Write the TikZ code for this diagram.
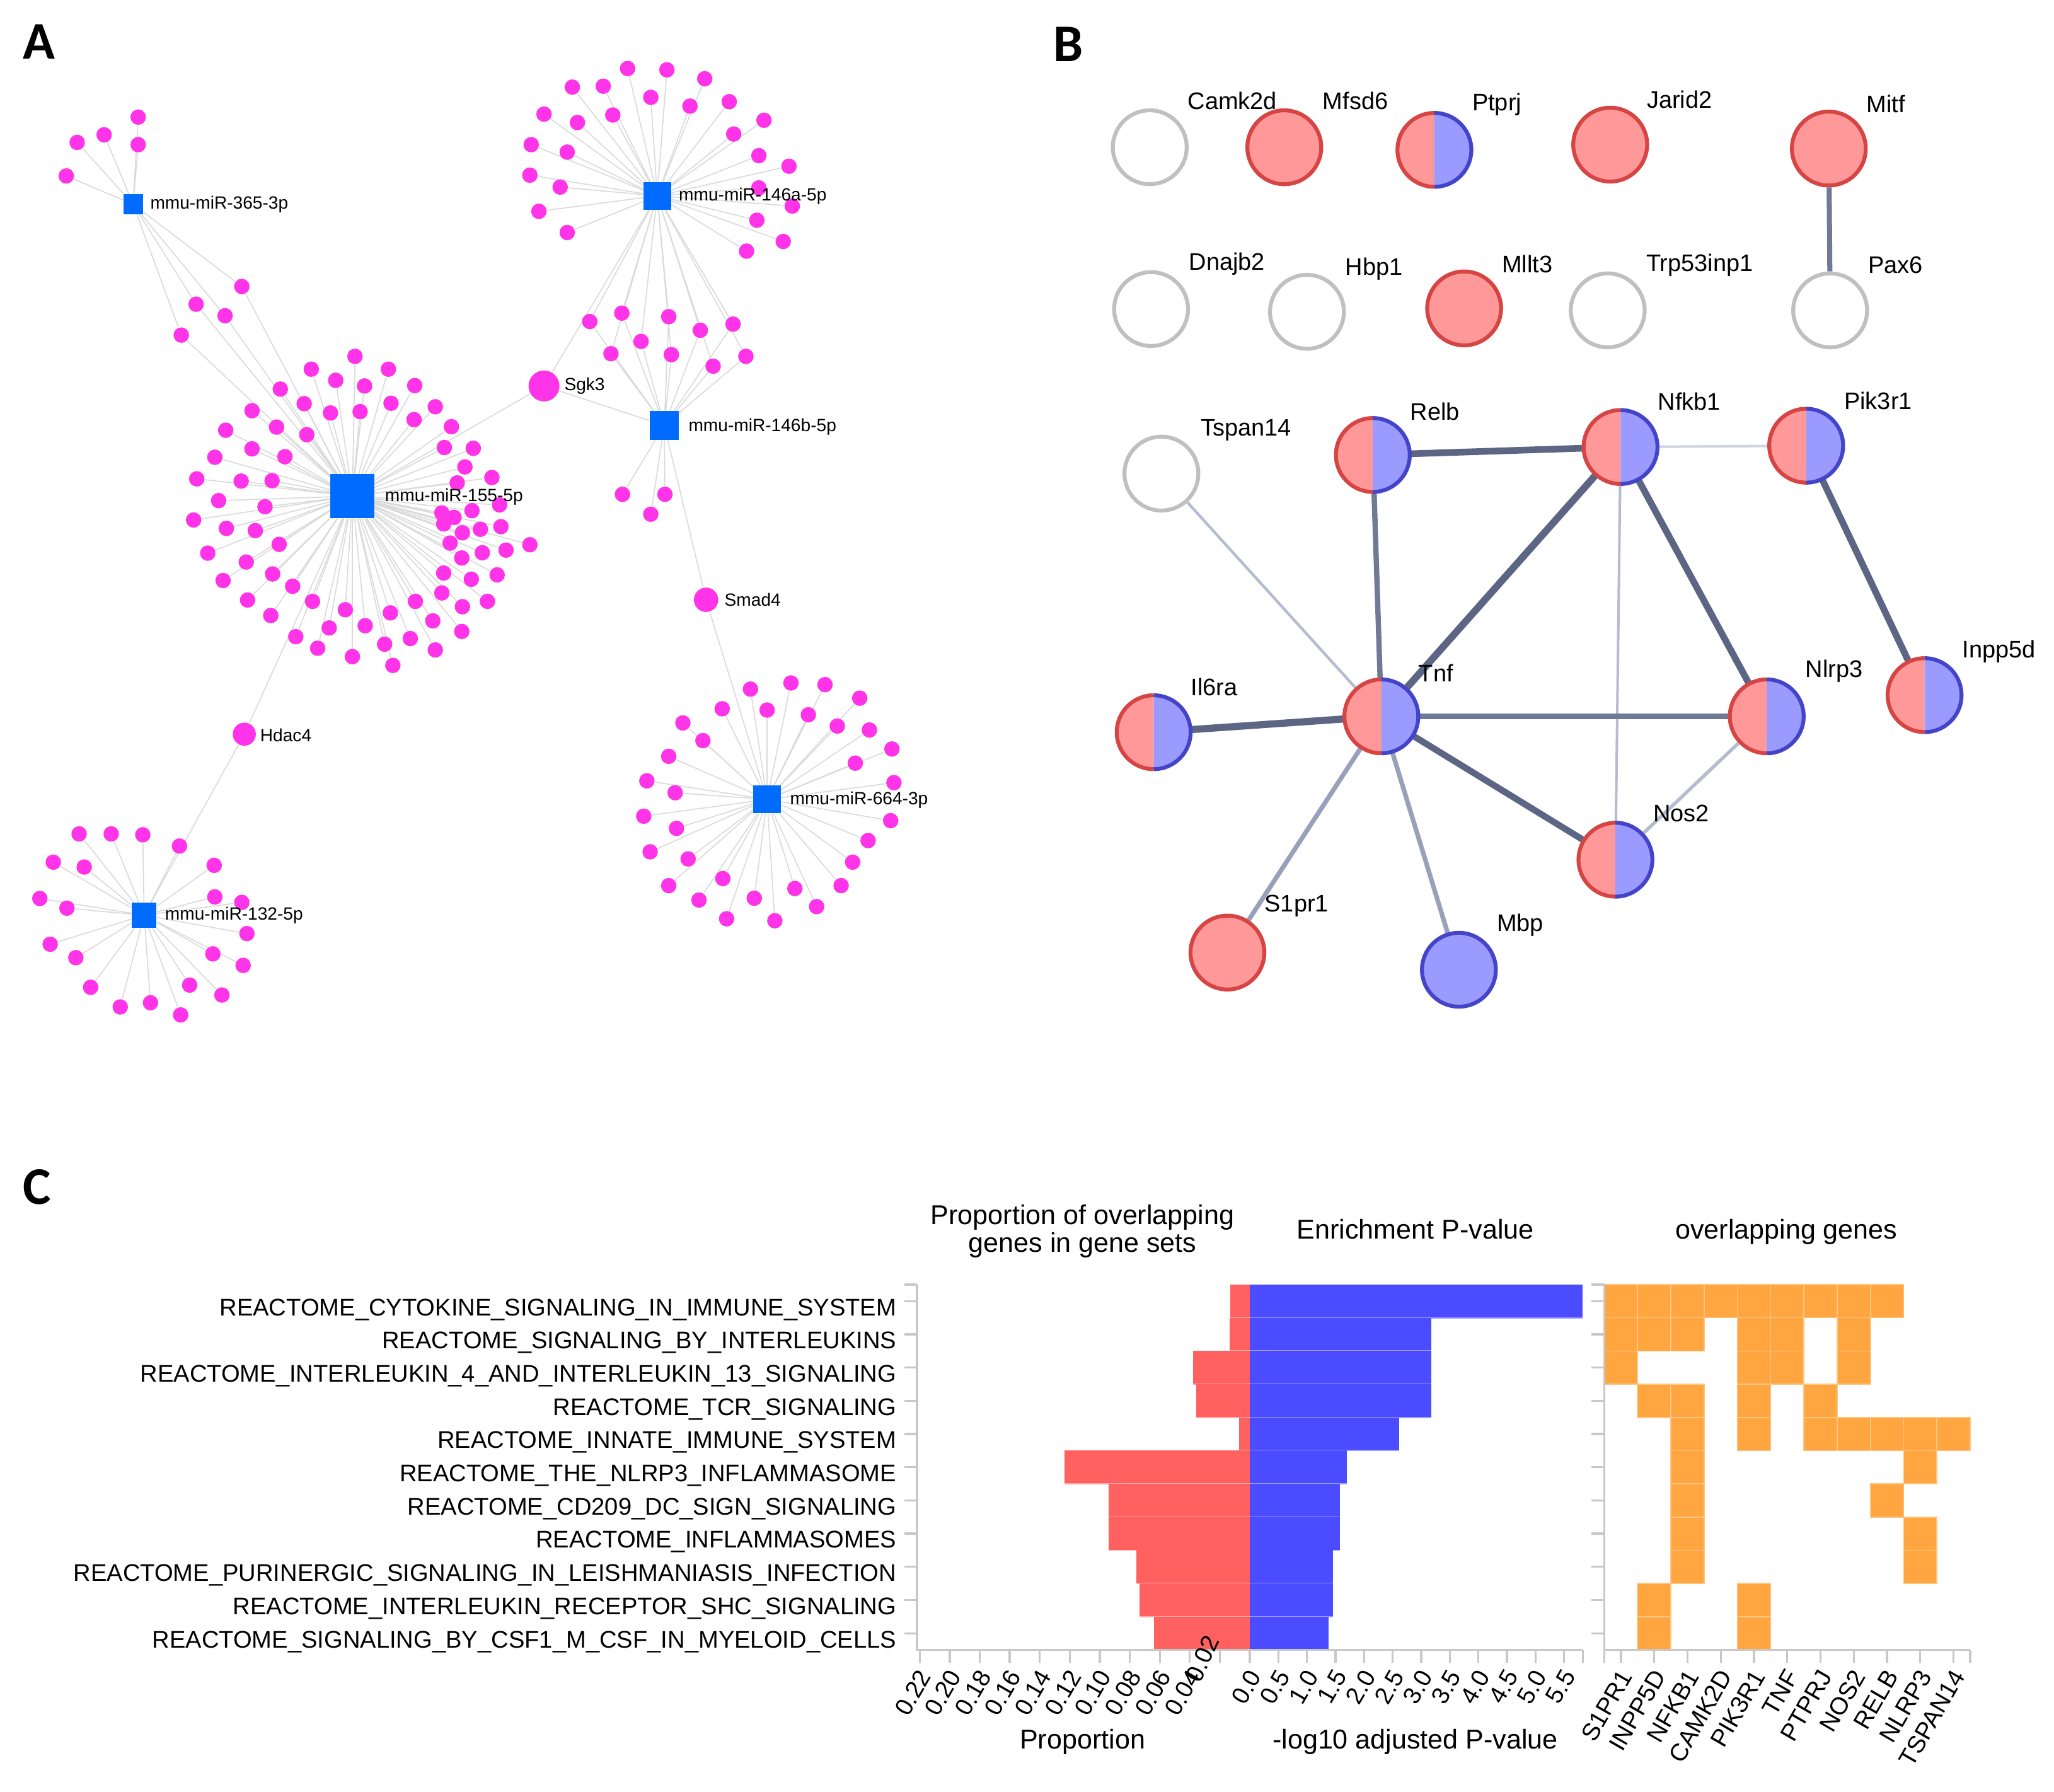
\documentclass[tikz,border=0pt]{standalone}
\usepackage{fontspec}
\setmainfont{Liberation Sans}
\newfontfamily\panelfont{Carlito}
\pgfdeclarelayer{bg}
\pgfsetlayers{bg,main}
\definecolor{mag}{RGB}{255,51,232}
\definecolor{hubblue}{RGB}{0,108,255}
\definecolor{aedgec}{RGB}{218,218,218}
\definecolor{pinkf}{RGB}{255,153,153}
\definecolor{redb}{RGB}{214,68,68}
\definecolor{lavf}{RGB}{155,155,255}
\definecolor{blueb}{RGB}{68,68,200}
\definecolor{grayb}{RGB}{192,192,192}
\definecolor{eA}{RGB}{92,102,132}
\definecolor{eB}{RGB}{112,122,150}
\definecolor{eC}{RGB}{152,160,186}
\definecolor{eD}{RGB}{182,188,208}
\definecolor{eE}{RGB}{208,211,224}
\definecolor{barred}{RGB}{255,97,97}
\definecolor{barblue}{RGB}{75,75,255}
\definecolor{heatorange}{RGB}{255,166,64}
\definecolor{axisgray}{RGB}{200,200,200}
\begin{document}
\begin{tikzpicture}[x=0.02cm,y=-0.02cm,
  dot/.style={circle,fill=mag,inner sep=0,minimum size=0.236cm},
  gdot/.style={circle,fill=mag,inner sep=0},
  hub/.style={rectangle,fill=hubblue,inner sep=0},
  alabel/.style={anchor=west,inner sep=0,font=\fontsize{7.7pt}{9pt}\selectfont},
  aedge/.style={draw=aedgec,line width=0.45pt},
  gn/.style={circle,inner sep=0,minimum size=1.128cm},
  blabel/.style={anchor=west,inner sep=0,font=\fontsize{10.4pt}{12pt}\selectfont},
  plabel/.style={inner sep=0,anchor=base west,font=\panelfont\bfseries\fontsize{23pt}{26pt}\selectfont},
  rowlab/.style={inner sep=0,anchor=base east,font=\fontsize{10.45pt}{12pt}\selectfont},
  ticklab/.style={inner sep=0,anchor=east,rotate=60,font=\fontsize{10.6pt}{12pt}\selectfont},
  ctitle/.style={inner sep=0,anchor=base,align=center,font=\fontsize{11.8pt}{10.9pt}\selectfont},
  axisl/.style={draw=axisgray,line width=0.9pt},
  ringred/.style={draw=redb,line width=1.7pt},
  ringblue/.style={draw=blueb,line width=1.7pt}]
\begin{pgfonlayer}{bg}
\fill[white] (0,0) rectangle (1568,1367.8);
\end{pgfonlayer}
\useasboundingbox (0,0) rectangle (1568,1367.8);

% ---------------- Panel letters
\node[plabel] (pA) at (17,45) {A};
\node[plabel] (pB) at (804,47) {B};
\node[plabel] (pC) at (17,919) {C};

% ---------------- Panel A hubs
\node[hub,minimum size=0.30cm] (h365) at (101.6,155.9) {};
\node[hub,minimum size=0.42cm] (h146a) at (501.7,149.5) {};
\node[hub,minimum size=0.44cm] (h146b) at (507.1,324.7) {};
\node[hub,minimum size=0.67cm] (h155) at (269.0,378.7) {};
\node[hub,minimum size=0.42cm] (h664) at (585.6,610.2) {};
\node[hub,minimum size=0.38cm] (h132) at (110.0,698.6) {};
\node[gdot,minimum size=0.472cm] (sgk3) at (415.3,294.6) {};
\node[gdot,minimum size=0.372cm] (smad4) at (539.0,457.8) {};
\node[gdot,minimum size=0.352cm] (hdac4) at (186.5,560.4) {};

% dots
\foreach \px/\py [count=\i] in {105.5/89.4,79.5/102.9,58.9/108.7,105.5/110.4,50.6/134.3}
  \node[dot] (a\i) at (\px,\py) {};
\foreach \px/\py [count=\i] in {184.6/218.7,149.7/232.2,171.8/241.0,138.4/255.8}
  \node[dot] (s\i) at (\px,\py) {};
\foreach \px/\py [count=\i] in {479.1/52.3,509.1/53.3,538.0/60.1,436.9/66.5,460.5/65.8,496.8/74.3,526.7/81.0,556.7/77.6,415.3/87.1,440.8/93.5,467.8/87.8,583.2/91.8,560.1/102.3,405.5/110.4,433.0/116.1,579.3/118.8,602.3/126.9,404.5/133.7,427.6/142.8,579.3/143.4,604.8/157.3,411.4/161.3,577.8/168.1,433.0/177.5,597.9/184.3,569.9/191.7}
  \node[dot] (b\i) at (\px,\py) {};
\foreach \px/\py [count=\i] in {450.2/245.4,474.7/239.0,510.5/241.7,534.6/252.1,559.6/247.4,466.4/270.0,489.4/260.6,512.5/270.7,544.4/279.5,569.4/272.0}
  \node[dot] (c\i) at (\px,\py) {};
\foreach \px/\py [count=\i] in {475.2/377.3,507.6/377.3,496.8/392.5}
  \node[dot] (d\i) at (\px,\py) {};
\foreach \px/\py [count=\i] in {271.0/272.0,237.6/281.8,296.5/281.8,256.3/290.3,278.3/294.6,316.6/294.3,214.0/297.0,232.2/308.1,252.3/315.2,274.9/314.2,298.5/307.8,332.3/310.5,192.4/313.5,211.1/326.0,234.2/331.8,316.1/320.3,344.6/325.7,172.3/328.4,192.4/342.6,217.5/348.6,339.2/341.6,361.3/342.2,164.0/349.0,354.9/356.4,150.2/365.5,184.1/367.2,207.7/366.9,349.0/368.6,375.5/364.5,166.9/382.1,202.3/386.8,360.3/389.8,381.4/385.4,337.3/391.5,346.6/394.9,338.7/399.9,147.8/396.9,172.8/403.3,194.9/405.0,353.0/406.7,366.7/404.0,382.4/402.0,213.1/415.5,343.6/414.5,404.5/415.8,158.6/422.2,188.0/429.0,352.5/425.9,368.2/421.9,386.3/419.9,208.1/438.1,338.7/437.4,359.8/442.1,379.5/438.8,170.3/443.1,223.4/447.5,317.1/459.0,337.3/452.6,353.0/463.1,372.1/459.0,189.0/458.0,238.6/459.0,263.6/465.4,298.0/467.8,330.4/473.9,206.7/469.8,251.3/479.3,278.8/477.6,352.5/482.0,225.8/486.0,242.5/494.8,269.0/501.2,293.6/491.7,313.2/487.4,332.3/496.1,299.9/507.9}
  \node[dot] (e\i) at (\px,\py) {};
\foreach \px/\py [count=\i] in {572.9/526.0,603.8/521.3,629.8/522.6,551.3/541.0,585.6/542.0,617.1/545.6,656.3/532.9,521.3/551.8,536.6/565.3,639.2/554.2,663.7/557.2,510.5/577.3,680.9/571.7,652.9/582.5,493.8/596.0,515.4/605.1,682.4/597.4,491.4/623.0,516.4/632.3,679.9/626.4,496.3/650.2,525.3/655.6,662.7/641.6,650.9/658.1,510.5/676.0,551.8/670.6,642.1/676.0,606.8/678.2,575.8/685.6,533.6/687.0,623.4/692.0,554.7/701.3,591.5/702.8}
  \node[dot] (f\i) at (\px,\py) {};
\foreach \px/\py [count=\i] in {60.4/636.5,84.9/636.5,109.0/637.2,137.0/645.8,40.7/658.1,64.3/661.8,163.5/660.5,30.4/685.8,51.1/693.2,164.0/684.6,184.6/688.8,188.5/712.6,38.3/720.7,57.9/731.0,162.5/728.1,185.6/736.9,69.2/753.6,144.8/751.9,91.8/768.6,114.9/765.4,169.4/759.5,137.9/774.7}
  \node[dot] (g\i) at (\px,\py) {};

% A labels
\node[alabel] (l365) at (114.4,155.9) {mmu-miR-365-3p};
\node[alabel] (l146a) at (517.9,149.5) {mmu-miR-146a-5p};
\node[alabel] (l146b) at (525.3,325.7) {mmu-miR-146b-5p};
\node[alabel] (l155) at (293.6,379.0) {mmu-miR-155-5p};
\node[alabel] (lsgk3) at (430.5,294.6) {Sgk3};
\node[alabel] (lsmad4) at (552.8,458.0) {Smad4};
\node[alabel] (lhdac4) at (198.3,561.1) {Hdac4};
\node[alabel] (l664) at (602.8,610.7) {mmu-miR-664-3p};
\node[alabel] (l132) at (125.7,698.6) {mmu-miR-132-5p};

\begin{pgfonlayer}{bg}
\foreach \i in {1,...,5} \draw[aedge] (h365) -- (a\i);
\foreach \i in {1,...,4} {\draw[aedge] (h365) -- (s\i); \draw[aedge] (h155) -- (s\i);}
\foreach \i in {1,...,26} \draw[aedge] (h146a) -- (b\i);
\foreach \i in {1,...,10} {\draw[aedge] (h146a) -- (c\i); \draw[aedge] (h146b) -- (c\i);}
\foreach \i in {1,...,3} \draw[aedge] (h146b) -- (d\i);
\foreach \i in {1,...,76} \draw[aedge] (h155) -- (e\i);
\foreach \i in {1,...,33} \draw[aedge] (h664) -- (f\i);
\foreach \i in {1,...,22} \draw[aedge] (h132) -- (g\i);
\draw[aedge] (h155) -- (sgk3);
\draw[aedge] (h146a) -- (sgk3);
\draw[aedge] (h146b) -- (sgk3);
\draw[aedge] (h146b) -- (smad4);
\draw[aedge] (h664) -- (smad4);
\draw[aedge] (h155) -- (hdac4);
\draw[aedge] (h132) -- (hdac4);
\end{pgfonlayer}

% ---------------- Panel B
\newcommand\halfnode[3]{%
  \node[gn] (#1) at (#2,#3) {};
  \fill[pinkf] (#1.center) ++(0,28.2) arc[start angle=90,end angle=270,radius=28.2] -- cycle;
  \fill[lavf] (#1.center) ++(0,-28.2) arc[start angle=-90,end angle=90,radius=28.2] -- cycle;
  \draw[ringred] (#1.center) ++(0,28.2) arc[start angle=90,end angle=270,radius=28.2];
  \draw[ringblue] (#1.center) ++(0,-28.2) arc[start angle=-90,end angle=90,radius=28.2];
}
\tikzset{
  redn/.style={gn,fill=pinkf,draw=redb,line width=1.7pt,minimum size=1.128cm},
  bluen/.style={gn,fill=lavf,draw=blueb,line width=1.7pt,minimum size=1.128cm},
  grayn/.style={gn,fill=white,draw=grayb,line width=1.7pt,minimum size=1.128cm}}
\node[grayn] (camk2d) at (877.7,112.4) {};
\node[redn] (mfsd6) at (980.4,112.4) {};
\halfnode{ptprj}{1095.0}{114.4}
\node[redn] (jarid2) at (1229.2,110.4) {};
\node[redn] (mitf) at (1396.1,113.4) {};
\node[grayn] (dnajb2) at (878.7,235.9) {};
\node[grayn] (hbp1) at (997.7,238.0) {};
\node[redn] (mllt3) at (1117.7,235.4) {};
\node[grayn] (trp53) at (1227.3,236.9) {};
\node[grayn] (pax6) at (1397.1,236.9) {};
\node[grayn] (tspan14) at (886.6,361.5) {};
\halfnode{relb}{1048.0}{347.3}
\halfnode{nfkb1}{1237.1}{341.2}
\halfnode{pik3r1}{1378.8}{340.2}
\halfnode{inpp5d}{1469.2}{530.6}
\halfnode{il6ra}{880.7}{558.9}
\halfnode{tnf}{1054.5}{546.8}
\halfnode{nlrp3}{1348.7}{546.8}
\halfnode{nos2}{1233.2}{656.2}
\node[redn] (s1pr1) at (937.0,727.1) {};
\node[bluen] (mbp) at (1113.7,740.2) {};

\node[blabel] (tcamk2d) at (906.4,77.0) {Camk2d};
\node[blabel] (tmfsd6) at (1009.5,77.0) {Mfsd6};
\node[blabel] (tptprj) at (1123.6,79.5) {Ptprj};
\node[blabel] (tjarid2) at (1256.9,75.9) {Jarid2};
\node[blabel] (tmitf) at (1424.7,79.5) {Mitf};
\node[blabel] (tdnajb2) at (907.4,201.5) {Dnajb2};
\node[blabel] (thbp1) at (1026.8,205.1) {Hbp1};
\node[blabel] (tmllt3) at (1146.3,201.5) {Mllt3};
\node[blabel] (ttrp53) at (1256.4,202.5) {Trp53inp1};
\node[blabel] (tpax6) at (1425.7,202.5) {Pax6};
\node[blabel] (ttspan14) at (916.2,328.1) {Tspan14};
\node[blabel] (trelb) at (1076.2,313.9) {Relb};
\node[blabel] (tnfkb1) at (1265.3,306.3) {Nfkb1};
\node[blabel] (tpik3r1) at (1407.5,305.8) {Pik3r1};
\node[blabel] (tinpp5d) at (1497.8,497.2) {Inpp5d};
\node[blabel] (til6ra) at (908.8,524.5) {Il6ra};
\node[blabel] (ttnf) at (1082.6,513.9) {Tnf};
\node[blabel] (tnlrp3) at (1377.9,512.4) {Nlrp3};
\node[blabel] (tnos2) at (1261.8,620.7) {Nos2};
\node[blabel] (ts1pr1) at (965.1,691.6) {S1pr1};
\node[blabel] (tmbp) at (1142.4,706.3) {Mbp};

\begin{pgfonlayer}{bg}
\draw[eB,line width=2.2pt] (mitf) -- (pax6);
\draw[eA,line width=2.9pt] (relb) -- (nfkb1);
\draw[eE,line width=1.1pt] (nfkb1) -- (pik3r1);
\draw[eB,line width=2.3pt] (relb) -- (tnf);
\draw[eA,line width=3.1pt] (nfkb1) -- (tnf);
\draw[eA,line width=2.9pt] (nfkb1) -- (nlrp3);
\draw[eD,line width=1.1pt] (nfkb1) -- (nos2);
\draw[eD,line width=1.2pt] (tspan14) -- (tnf);
\draw[eA,line width=3.1pt] (il6ra) -- (tnf);
\draw[eB,line width=2.3pt] (tnf) -- (nlrp3);
\draw[eA,line width=2.8pt] (tnf) -- (nos2);
\draw[eD,line width=1.5pt] (nlrp3) -- (nos2);
\draw[eC,line width=2.0pt] (tnf) -- (s1pr1);
\draw[eC,line width=2.0pt] (tnf) -- (mbp);
\draw[eA,line width=2.9pt] (pik3r1) -- (inpp5d);
\end{pgfonlayer}

% ---------------- Panel C
\node[ctitle] (tprop) at (826.4,955.6) {Proportion of overlapping\\genes in gene sets};
\node[ctitle] (tenr) at (1080.4,945.8) {Enrichment P-value};
\node[ctitle] (tovl) at (1363.7,945.8) {overlapping genes};
\node[ctitle] (xprop) at (826.4,1334.8) {Proportion};
\node[ctitle] (xpv) at (1080.4,1334.8) {-log10 adjusted P-value};

% bars
\foreach \lx/\rx [count=\i] in {939.3/1208.2,938.6/1092.4,910.7/1092.4,913.2/1092.4,946.0/1068.1,812.6/1028.2,846.1/1022.9,846.1/1022.9,867.3/1017.6,870.1/1017.6,881.1/1014.1}{
  \pgfmathsetmacro\ty{980.5+(\i-1)*25.35}
  \pgfmathsetmacro\by{980.5+\i*25.35}
  \fill[barred] (\lx,\ty) rectangle (954.1,\by);
  \fill[barblue] (954.1,\ty) rectangle (\rx,\by);
  \draw[barred!55!white,line width=0.5pt] (\lx,\by) -- (954.1,\by);
  \draw[barblue!55!white,line width=0.5pt] (954.1,\by) -- (\rx,\by);
}
% row labels
\foreach \t [count=\i] in {CYTOKINE\_SIGNALING\_IN\_IMMUNE\_SYSTEM,SIGNALING\_BY\_INTERLEUKINS,INTERLEUKIN\_4\_AND\_INTERLEUKIN\_13\_SIGNALING,TCR\_SIGNALING,INNATE\_IMMUNE\_SYSTEM,THE\_NLRP3\_INFLAMMASOME,CD209\_DC\_SIGN\_SIGNALING,INFLAMMASOMES,PURINERGIC\_SIGNALING\_IN\_LEISHMANIASIS\_INFECTION,INTERLEUKIN\_RECEPTOR\_SHC\_SIGNALING,SIGNALING\_BY\_CSF1\_M\_CSF\_IN\_MYELOID\_CELLS}{
  \pgfmathsetmacro\rc{980.5+(\i-0.5)*25.35}
  \node[rowlab] (rl\i) at (684.6,\rc+11) {REACTOME\_\t};
  \draw[axisl] (690.5,\rc) -- (700,\rc);
  \draw[axisl] (1214.7,\rc) -- (1224.7,\rc);
}
% axes of bar chart
\draw[axisl] (690.5,980.5) -- (700,980.5);
\draw[axisl] (700,980.5) -- (700,1259.4) -- (1208.2,1259.4);
\draw[axisl] (1208.2,1259.4) -- (1208.2,1269.4);
\foreach \v/\t in {0.22/0.22,0.20/0.20,0.18/0.18,0.16/0.16,0.14/0.14,0.12/0.12,0.10/0.10,0.08/0.08,0.06/0.06,0.04/0.04}{
  \pgfmathsetmacro\tx{954.1-\v*1145.5}
  \draw[axisl] (\tx,1259.4) -- (\tx,1269.4);
  \node[ticklab] (pt\t) at (\tx+4,1276) {\t};
}
\draw[axisl] (931.2,1259.4) -- (931.2,1269.4);
\node[inner sep=0,rotate=65,font=\fontsize{10.6pt}{12pt}\selectfont] (pt002) at (918,1266) {0.02};
\foreach \v in {0.0,0.5,1.0,1.5,2.0,2.5,3.0,3.5,4.0,4.5,5.0,5.5}{
  \pgfmathsetmacro\tx{954.1+\v*43.6}
  \draw[axisl] (\tx,1259.4) -- (\tx,1269.4);
  \node[ticklab] (pv\v) at (\tx+4,1276) {\v};
}
% heatmap
\foreach \r/\cl in {1/{1,2,3,4,5,6,7,8,9},2/{1,2,3,5,6,8},3/{1,5,6,8},4/{2,3,5,7},5/{3,5,7,8,9,10,11},6/{3,10},7/{3,9},8/{3,10},9/{3,10},10/{2,5},11/{2,5}}{
  \foreach \c in \cl {
    \pgfmathsetmacro\cx{1224.7+(\c-1)*25.39}
    \pgfmathsetmacro\cy{980.5+(\r-1)*25.35}
    \filldraw[fill=heatorange,draw=heatorange!65!white,line width=0.45pt] (\cx,\cy) rectangle ++(25.39,25.35);
  }
}
\draw[axisl] (1214.7,980.5) -- (1224.7,980.5);
\draw[axisl] (1224.7,980.5) -- (1224.7,1259.4) -- (1504,1259.4);
\draw[axisl] (1224.7,1259.4) -- (1224.7,1269.4);
\draw[axisl] (1504,1259.4) -- (1504,1269.4);
\foreach \g [count=\c] in {S1PR1,INPP5D,NFKB1,CAMK2D,PIK3R1,TNF,PTPRJ,NOS2,RELB,NLRP3,TSPAN14}{
  \pgfmathsetmacro\cx{1224.7+(\c-0.5)*25.39}
  \draw[axisl] (\cx,1259.4) -- (\cx,1269.4);
  \node[ticklab] (gl\c) at (\cx+4,1276) {\g};
}
\end{tikzpicture}
\end{document}
